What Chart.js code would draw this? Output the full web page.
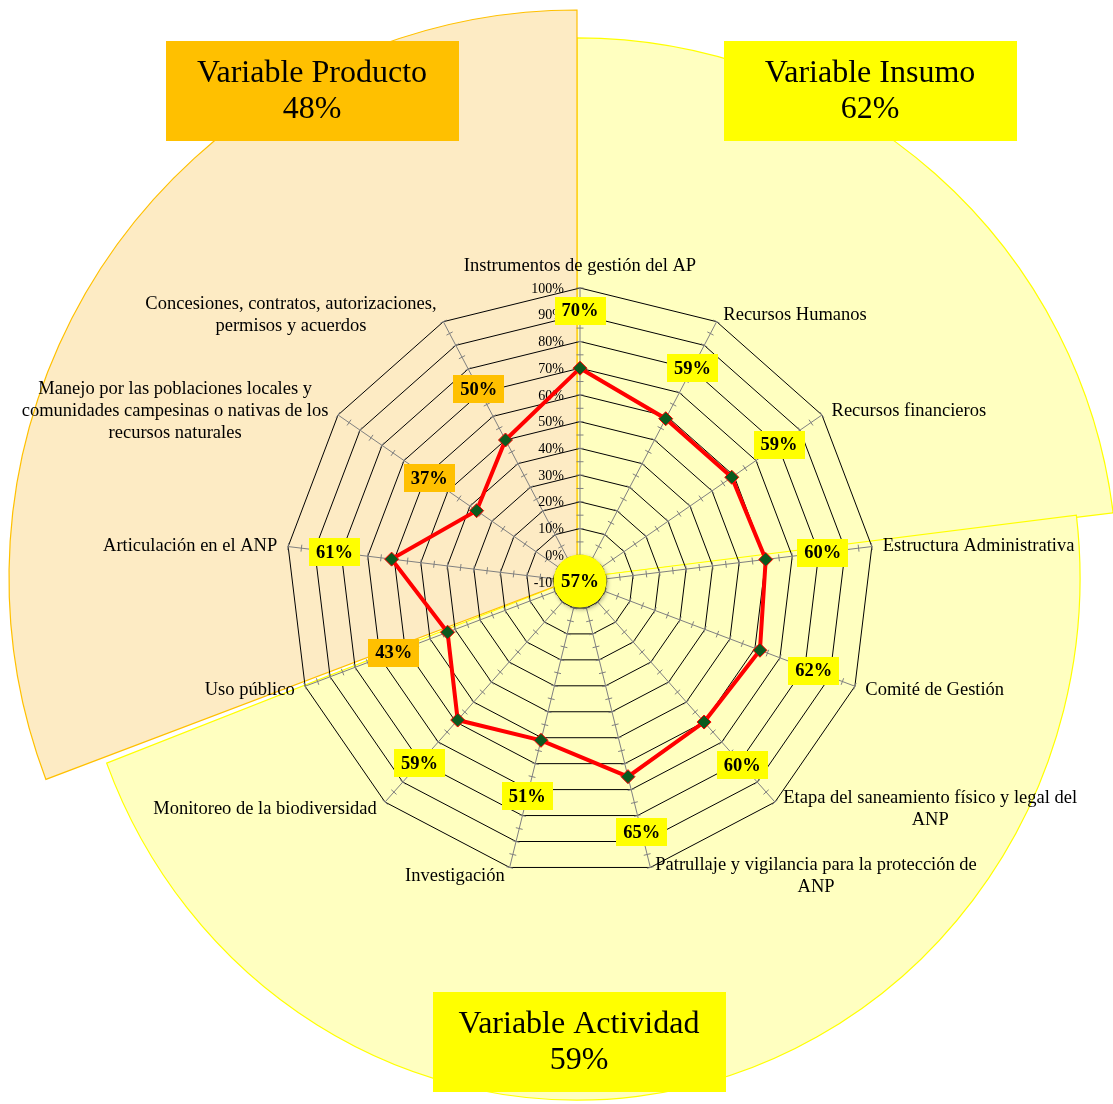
<!DOCTYPE html>
<html><head><meta charset="utf-8">
<script src="https://cdn.jsdelivr.net/npm/chart.js@4.4.1/dist/chart.umd.min.js"></script>
<style>html,body{margin:0;padding:0;background:#fff}#wrap{width:1113px;height:1104px;position:relative}</style>
</head><body><div id="wrap"><canvas id="c" width="1113" height="1104"></canvas></div>
<script>
// ---- data ----
const categories = [
  'Instrumentos de gestión del AP',
  'Recursos Humanos',
  'Recursos financieros',
  'Estructura Administrativa',
  'Comité de Gestión',
  ['Etapa del saneamiento físico y legal del', 'ANP'],
  ['Patrullaje y vigilancia para la protección de', 'ANP'],
  'Investigación',
  'Monitoreo de la biodiversidad',
  'Uso público',
  'Articulación en el ANP',
  ['Manejo por las poblaciones locales y', 'comunidades campesinas o nativas de los', 'recursos naturales'],
  ['Concesiones, contratos, autorizaciones,', 'permisos y acuerdos']
];
const values = [70, 59, 59, 60, 62, 60, 65, 51, 59, 43, 61, 37, 50];
const groupNames = ['Variable Insumo', 'Variable Actividad', 'Variable Producto'];
const groupCounts = [3, 6, 4];
const groupValues = [62, 59, 48];
const overallValue = 57;
const scaleMin = -10, scaleMax = 100, scaleStep = 10;

// ---- styles ----
const SERIF = '"Liberation Serif", "Times New Roman", serif';
const YELLOW = '#FFFF00', ORANGE = '#FFC000';
const boxColor = v => v > 50 ? YELLOW : ORANGE;
const sectorFill = v => v > 50 ? '#FFFFC0' : '#FDEBC4';
const sectorBorder = v => v > 50 ? '#FFFF00' : '#FFC000';
const sectorRadius = [1.837, 1.711, 1.932];   // relative to radar radius
const sectorStretchY = [1.0, 1.038, 1.0];
const pieShift = [-3, -4];
const groupBoxOffset = [[290, -491], [-1, 460], [-268, -491]];

const decor = {
  id: 'decor',
  beforeDraw(chart) {
    const ctx = chart.ctx, sc = chart.scales.r;
    const cx = sc.xCenter + pieShift[0], cy = sc.yCenter + pieShift[1], R = sc.drawingArea;
    const total = groupCounts.reduce((a, b) => a + b, 0);
    ctx.save();
    ctx.fillStyle = '#fff';
    ctx.fillRect(0, 0, chart.width, chart.height);
    let acc = 0;
    groupCounts.forEach((cnt, k) => {
      const a0 = acc / total * Math.PI * 2 - Math.PI / 2;
      acc += cnt;
      const a1 = acc / total * Math.PI * 2 - Math.PI / 2;
      ctx.save();
      ctx.translate(cx, cy);
      ctx.scale(1, sectorStretchY[k]);
      ctx.beginPath();
      ctx.moveTo(0, 0);
      ctx.arc(0, 0, R * sectorRadius[k], a0, a1);
      ctx.closePath();
      ctx.restore();
      ctx.fillStyle = sectorFill(groupValues[k]);
      ctx.fill();
      ctx.lineWidth = 1.2;
      ctx.strokeStyle = sectorBorder(groupValues[k]);
      ctx.stroke();
    });
    ctx.restore();
  },
  beforeDatasetsDraw(chart) {
    const ctx = chart.ctx, sc = chart.scales.r;
    const cx = sc.xCenter, cy = sc.yCenter, R = sc.drawingArea;
    const n = categories.length;
    ctx.save();
    // minor tick marks along every axis
    ctx.strokeStyle = '#808080';
    ctx.lineWidth = 1;
    for (let i = 0; i < n; i++) {
      const ang = sc.getIndexAngle(i);
      const px = Math.cos(ang), py = Math.sin(ang);
      for (let v = scaleMin + scaleStep / 2; v <= scaleMax; v += scaleStep / 2) {
        const p = sc.getPointPositionForValue(i, v);
        ctx.beginPath();
        ctx.moveTo(p.x - px * 3.5, p.y - py * 3.5);
        ctx.lineTo(p.x + px * 3.5, p.y + py * 3.5);
        ctx.stroke();
      }
    }
    // tick labels
    ctx.fillStyle = '#000';
    ctx.font = '14px ' + SERIF;
    ctx.textAlign = 'right';
    ctx.textBaseline = 'middle';
    sc.ticks.forEach(t => {
      const d = sc.getDistanceFromCenterForValue(t.value);
      ctx.fillText(t.value + '%', cx - 16, cy - d + 1);
    });
    // point labels
    ctx.font = '18.5px ' + SERIF;
    const lh = 22;
    categories.forEach((lab, i) => {
      const lines = Array.isArray(lab) ? lab : [lab];
      const ang = sc.getIndexAngle(i);
      const s = Math.sin(ang), c = Math.cos(ang);
      const p = sc.getPointPosition(i, R + 8);
      const h = lines.length * lh;
      const W = Math.max(...lines.map(t => ctx.measureText(t).width));
      let xc;
      if (Math.abs(s) < 0.1) xc = p.x;
      else if (s > 0) xc = p.x + 3 + W / 2;
      else xc = p.x - 3 - W / 2;
      let yc = p.y;
      if (Math.abs(s) < 0.1) yc = p.y - c * (h / 2 + 4);
      ctx.textAlign = 'center';
      ctx.textBaseline = 'middle';
      lines.forEach((t, k) => ctx.fillText(t, xc, yc - h / 2 + lh / 2 + k * lh + 1));
    });
    ctx.restore();
  },
  afterDraw(chart) {
    const ctx = chart.ctx, sc = chart.scales.r;
    const cx = sc.xCenter, cy = sc.yCenter;
    ctx.save();
    // value boxes
    ctx.font = 'bold 18.5px ' + SERIF;
    ctx.textAlign = 'center';
    ctx.textBaseline = 'middle';
    values.forEach((v, i) => {
      const p = sc.getPointPositionForValue(i, v + 21.5);
      const txt = v + '%';
      const w = ctx.measureText(txt).width + 14, h = 28;
      ctx.fillStyle = boxColor(v);
      ctx.fillRect(Math.round(p.x - w / 2), Math.round(p.y - h / 2), Math.round(w), h);
      ctx.fillStyle = '#000';
      ctx.fillText(txt, p.x, p.y + 1);
    });
    // center circle
    ctx.save();
    ctx.shadowColor = 'rgba(0,0,0,0.35)';
    ctx.shadowBlur = 4;
    ctx.shadowOffsetX = 1;
    ctx.shadowOffsetY = 2;
    ctx.beginPath();
    ctx.arc(cx, cy - 1, 26.5, 0, Math.PI * 2);
    ctx.fillStyle = boxColor(overallValue);
    ctx.fill();
    ctx.restore();
    ctx.fillStyle = '#000';
    ctx.font = 'bold 19px ' + SERIF;
    ctx.fillText(overallValue + '%', cx, cy);
    // group boxes
    groupNames.forEach((g, k) => {
      const bx = cx + groupBoxOffset[k][0], by = cy + groupBoxOffset[k][1];
      const w = 293, h = 100;
      ctx.fillStyle = boxColor(groupValues[k]);
      ctx.fillRect(Math.round(bx - w / 2), Math.round(by - h / 2), w, h);
      ctx.fillStyle = '#000';
      ctx.font = '32px ' + SERIF;
      ctx.fillText(g, bx, by - 17);
      ctx.fillText(groupValues[k] + '%', bx, by + 19);
    });
    ctx.restore();
  }
};

new Chart(document.getElementById('c'), {
  type: 'radar',
  data: {
    labels: categories,
    datasets: [{
      data: values,
      borderColor: '#FF0000',
      borderWidth: 4,
      fill: false,
      tension: 0,
      pointStyle: 'rectRot',
      pointRadius: 7,
      pointBackgroundColor: '#0B5A1E',
      pointBorderColor: '#FF0000',
      pointBorderWidth: 1
    }]
  },
  options: {
    responsive: false,
    animation: false,
    devicePixelRatio: 1,
    layout: { padding: { left: 286, right: 239, top: 288, bottom: 228 } },
    plugins: { legend: { display: false }, tooltip: { enabled: false } },
    scales: {
      r: {
        min: scaleMin, max: scaleMax,
        ticks: { display: false, stepSize: scaleStep },
        grid: { color: '#000', lineWidth: 1 },
        angleLines: { color: '#808080', lineWidth: 1 },
        pointLabels: { display: false }
      }
    }
  },
  plugins: [decor]
});
</script>
</body></html>
